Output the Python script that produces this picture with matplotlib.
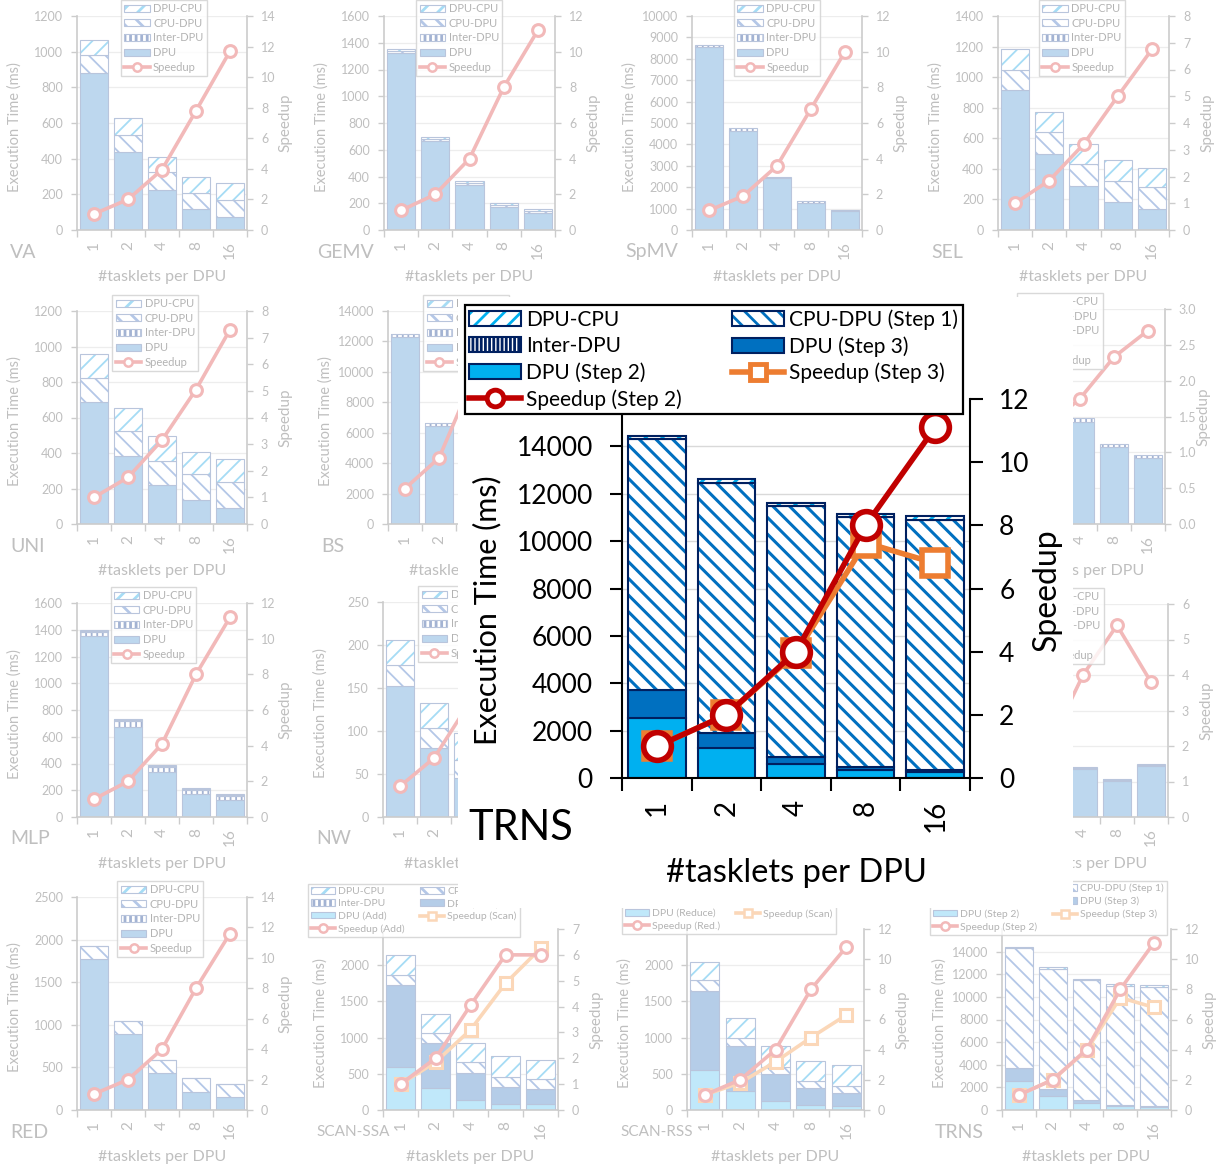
import numpy as np
import matplotlib
matplotlib.use('Agg')
import matplotlib.pyplot as plt
import matplotlib.patches as mpatches
from matplotlib.lines import Line2D
from matplotlib.ticker import FormatStrFormatter
from matplotlib.transforms import Bbox, TransformedBbox

plt.rcParams['font.family'] = ['Lato', 'DejaVu Sans']
plt.rcParams['hatch.linewidth'] = 2.0

W, H = 1221, 1168
tasklets = ['1', '2', '4', '8', '16']

# ---- data: execution time (ms) per stage, speedup ----
va_dpu = [880, 440, 225, 118, 75]
va_inter = [0, 0, 0, 0, 0]
va_cpu_dpu = [100, 95, 103, 92, 95]
va_dpu_cpu = [85, 93, 84, 88, 92]
va_speedup = [1.05, 2.0, 3.95, 7.8, 11.7]

gemv_dpu = [1322, 662, 337, 172, 125]
gemv_inter = [0, 0, 0, 0, 0]
gemv_cpu_dpu = [18, 18, 18, 18, 18]
gemv_dpu_cpu = [15, 15, 15, 15, 15]
gemv_speedup = [1.1, 2.0, 4.0, 8.0, 11.2]

spmv_dpu = [8550, 4620, 2420, 1280, 870]
spmv_inter = [100, 130, 80, 70, 80]
spmv_cpu_dpu = [0, 0, 0, 0, 0]
spmv_dpu_cpu = [0, 0, 0, 0, 0]
spmv_speedup = [1.1, 1.9, 3.6, 6.8, 10.0]

sel_dpu = [915, 495, 285, 180, 135]
sel_inter = [0, 0, 0, 0, 0]
sel_cpu_dpu = [135, 145, 145, 140, 145]
sel_dpu_cpu = [135, 135, 135, 138, 128]
sel_speedup = [1.0, 1.85, 3.2, 5.0, 6.75]

uni_dpu = [685, 385, 220, 135, 90]
uni_inter = [0, 0, 0, 0, 0]
uni_cpu_dpu = [140, 140, 135, 145, 145]
uni_dpu_cpu = [133, 130, 140, 125, 130]
uni_speedup = [1.0, 1.75, 3.15, 5.05, 7.3]

bs_dpu = [12300, 6450, 3500, 1900, 1150]
bs_inter = [200, 200, 150, 100, 80]
bs_cpu_dpu = [0, 0, 0, 0, 0]
bs_dpu_cpu = [0, 0, 0, 0, 0]
bs_speedup = [1.0, 1.86, 4.1, 5.3, 5.8]

bfs_dpu = [1260, 930, 715, 535, 458]
bfs_inter = [40, 30, 28, 25, 22]
bfs_cpu_dpu = [0, 0, 0, 0, 0]
bfs_dpu_cpu = [0, 0, 0, 0, 0]
bfs_speedup = [1.0, 1.35, 1.75, 2.33, 2.7]

mlp_dpu = [1350, 670, 340, 175, 130]
mlp_inter = [35, 45, 35, 30, 30]
mlp_cpu_dpu = [8, 8, 8, 8, 8]
mlp_dpu_cpu = [7, 7, 7, 5, 4]
mlp_speedup = [1.0, 2.0, 4.1, 8.0, 11.2]

nw_dpu = [152, 80, 45, 28, 22]
nw_inter = [0, 0, 0, 0, 0]
nw_cpu_dpu = [25, 23, 21, 17, 16]
nw_dpu_cpu = [29, 30, 32, 30, 28]
nw_speedup = [1.0, 1.92, 3.65, 4.6, 5.0]

hstl_dpu = [540, 270, 135, 101, 143]
hstl_inter = [0, 0, 0, 0, 0]
hstl_cpu_dpu = [3, 3, 3, 3, 3]
hstl_dpu_cpu = [3, 3, 3, 3, 4]
hstl_speedup = [1.0, 2.0, 4.0, 5.4, 3.8]

red_dpu = [1770, 890, 435, 210, 150]
red_inter = [0, 0, 0, 0, 0]
red_cpu_dpu = [150, 150, 150, 165, 150]
red_dpu_cpu = [5, 5, 5, 5, 5]
red_speedup = [1.05, 2.0, 4.0, 8.0, 11.6]

ssa_dpu_add = [600, 300, 140, 80, 80]
ssa_dpu_scan = [1120, 620, 370, 240, 205]
ssa_inter = [0, 0, 0, 0, 0]
ssa_cpu_dpu = [150, 140, 150, 140, 145]
ssa_dpu_cpu = [270, 265, 265, 285, 260]
ssa_speedup_add = [1.0, 2.0, 4.05, 6.0, 6.0]
ssa_speedup_scan = [1.0, 1.85, 3.1, 4.9, 6.25]

rss_dpu_red = [550, 265, 120, 70, 50]
rss_dpu_scan = [1100, 625, 375, 235, 180]
rss_inter = [0, 0, 0, 0, 0]
rss_cpu_dpu = [140, 100, 105, 95, 100]
rss_dpu_cpu = [260, 285, 290, 275, 285]
rss_speedup_red = [1.0, 2.0, 4.0, 8.0, 10.8]
rss_speedup_scan = [1.0, 1.8, 3.2, 4.8, 6.3]

trns_dpu_step2 = [2550, 1270, 590, 330, 250]
trns_dpu_step3 = [1150, 630, 300, 130, 90]
trns_inter = [0, 0, 0, 0, 0]
trns_cpu_dpu = [10600, 10570, 10580, 10540, 10560]
trns_dpu_cpu = [150, 150, 150, 150, 150]
trns_speedup_step2 = [1.0, 2.0, 4.0, 8.0, 11.1]
trns_speedup_step3 = [1.0, 2.0, 3.95, 7.45, 6.8]

# ---- styles: (face, hatch, hatch colour) ----
F_DPU = ('#bdd7ee', None, None)
F_INTER = ('white', '|||', '#a3b3d3')
F_CPUDPU = ('white', '\\\\', '#b4c7e7')
F_DPUCPU = ('white', '//', '#a6dcf5')
F_DPU_A = ('#c0e8fa', None, None)
F_DPU_B = ('#b5cde8', None, None)
F_EDGE = '#b9c5dc'
F_SPEED = '#f2b9b9'
F_SPEED2 = '#fbd7b8'
F_TEXT = '#bfbfbf'
F_SPINE = '#cccccc'

B_DPU2 = ('#00b0f0', None, None)
B_DPU3 = ('#0070c0', None, None)
B_INTER = ('white', '||||', '#002060')
B_CPUDPU = ('white', '\\\\', '#0070c0')
B_DPUCPU = ('white', '//', '#00b0f0')
B_EDGE = '#002060'

# white panel behind the enlarged chart (pixels)
PANEL = (458, 297, 1073, 908)

fig = plt.figure(figsize=(W / 100, H / 100), dpi=100)
x = np.arange(5)


def px_axes(x0, y0, x1, y1, z=0):
    return fig.add_axes([x0 / W, 1 - y1 / H, (x1 - x0) / W, (y1 - y0) / H], zorder=z)


def ftext(px, py, s, clip=None, **kw):
    t = fig.text(px / W, 1 - py / H, s, **kw)
    if clip is not None:
        cx0, cx1 = clip
        t.set_clip_box(TransformedBbox(Bbox.from_extents(cx0 / W, 0, cx1 / W, 1), fig.transFigure))
        t.set_clip_on(True)
    return t


def set_hlw(p, w):
    try:
        p.set_hatch_linewidth(w)
    except AttributeError:
        pass


def draw_stack(ax, segs, width, edge, lw, hlw):
    bottom = np.zeros(5)
    for _, vals, (face, hatch, hcol) in segs:
        vals = np.asarray(vals, dtype=float)
        if not vals.any():
            continue
        if hatch:
            bars = ax.bar(x, vals, width, bottom=bottom, facecolor=face,
                          edgecolor=hcol, hatch=hatch, linewidth=0)
            for b in bars:
                set_hlw(b, hlw)
        else:
            ax.bar(x, vals, width, bottom=bottom, facecolor=face, linewidth=0)
        ax.bar(x, vals, width, bottom=bottom, fill=False, edgecolor=edge, linewidth=lw)
        bottom += vals


def bar_handle(style, edge, lw, hlw):
    face, hatch, hcol = style
    if hatch:
        p = mpatches.Patch(facecolor=face, edgecolor=hcol, hatch=hatch, linewidth=0)
        set_hlw(p, hlw)
    else:
        p = mpatches.Patch(facecolor=face, linewidth=0)
    return (p, mpatches.Patch(fill=False, edgecolor=edge, linewidth=lw))


def std_segs(dpu, inter, cpu_dpu, dpu_cpu):
    return [('DPU', dpu, F_DPU), ('Inter-DPU', inter, F_INTER),
            ('CPU-DPU', cpu_dpu, F_CPUDPU), ('DPU-CPU', dpu_cpu, F_DPUCPU)]


STD_ORDER = ['DPU-CPU', 'CPU-DPU', 'Inter-DPU', 'DPU', 'Speedup']


def small_chart(box, name, segs, lines, ymax, ystep, rmax, rstep, order,
                leg_loc, leg_anchor, ncol=1, leg_size=8, name_size=14, rfmt='%g',
                vis=None, ytick_max=None):
    # vis: None (all shown), 'left' (only x < panel left), 'right' (only x > panel right)
    x0, y0, x1, y1 = box
    ax = px_axes(x0, y0, x1, y1)
    draw_stack(ax, segs, 0.82, F_EDGE, 0.8, 1.3)
    ax.set_xlim(-0.5, 4.5)
    ax.set_ylim(0, ymax)
    ax.set_yticks(np.arange(0, (ytick_max or ymax) + 1e-9, ystep))
    ax.set_xticks(np.arange(-0.5, 5.0, 1.0))
    ax.set_xticks(x, minor=True)
    xl = list(tasklets)
    if vis == 'left':
        xl = xl[:2] + [''] * 3
    elif vis == 'right':
        xl = [''] * 2 + xl[2:]
    ax.set_xticklabels(xl, minor=True, rotation=90)
    ax.tick_params(axis='y', length=4, width=1, color=F_SPINE, labelcolor=F_TEXT,
                   labelsize=9, pad=6, labelleft=(vis != 'right'))
    ax.tick_params(axis='x', which='major', length=5, width=1, color=F_SPINE, labelbottom=False)
    ax.tick_params(axis='x', which='minor', length=0, labelsize=11, labelcolor=F_TEXT, pad=8)
    ax.yaxis.grid(True, color='#ededed', lw=0.9)
    ax.set_axisbelow(True)
    for s in ['top', 'right']:
        ax.spines[s].set_visible(False)
    for s in ['left', 'bottom']:
        ax.spines[s].set_color(F_SPINE)
        ax.spines[s].set_linewidth(1.2)

    ax2 = ax.twinx()
    handles = {}
    for label, vals, col, mk in lines:
        ax2.plot(x, vals, color=col, lw=2.6, marker=mk, ms=8.5, mfc='white',
                 mec=col, mew=2.2, zorder=3)
        handles[label] = Line2D([], [], color=col, lw=2.6, marker=mk, ms=6,
                                mfc='white', mec=col, mew=1.8)
    ax2.set_ylim(0, rmax)
    ax2.set_yticks(np.arange(0, rmax + 1e-9, rstep))
    ax2.yaxis.set_major_formatter(FormatStrFormatter(rfmt))
    ax2.tick_params(axis='y', length=4, width=1, color=F_SPINE, labelcolor=F_TEXT,
                    labelsize=9, pad=6, labelright=(vis != 'left'))
    for s in ['top', 'left', 'bottom']:
        ax2.spines[s].set_visible(False)
    ax2.spines['right'].set_color(F_SPINE)
    ax2.spines['right'].set_linewidth(1.2)

    for label, vals, style in segs:
        handles[label] = bar_handle(style, F_EDGE, 0.8, 1.0)
    leg = ax2.legend([handles[k] for k in order], order, loc=leg_loc,
                     bbox_to_anchor=leg_anchor, ncol=ncol, fontsize=leg_size,
                     frameon=True, fancybox=False, edgecolor='#d0d0d0',
                     labelcolor='#b3b3b3', handlelength=2.3, handleheight=0.6,
                     handletextpad=0.3, labelspacing=0.33, borderpad=0.3,
                     columnspacing=1.5, borderaxespad=0)
    leg.get_frame().set_linewidth(1.0)

    clip = None
    if vis == 'left':
        clip = (0, PANEL[0])
    elif vis == 'right':
        clip = (PANEL[2], W)
    if vis != 'right':
        ftext(x0 - 62, (y0 + y1) / 2 + 4, 'Execution Time (ms)', rotation=90,
              ha='center', va='center', fontsize=10.5, color=F_TEXT)
        ftext(x0 - 67, y1 + 22, name, ha='left', va='center', fontsize=name_size,
              color=F_TEXT)
    if vis != 'left':
        ftext(x1 + 38, (y0 + y1) / 2, 'Speedup', rotation=90,
              ha='center', va='center', fontsize=11, color=F_TEXT)
    ftext((x0 + x1) / 2, y1 + 47, '#tasklets per DPU', clip=clip, ha='center',
          va='center', fontsize=11.5, color=F_TEXT)


def std(box, name, segs, speed, ymax, ystep, rmax, rstep, cx=0.49, rfmt='%g', vis=None):
    h = box[3] - box[1]
    small_chart(box, name, segs, [('Speedup', speed, F_SPEED, 'o')],
                ymax, ystep, rmax, rstep, STD_ORDER, 'lower center',
                (cx, 1 - 60 / h), rfmt=rfmt, vis=vis)


# ---- small grid (faded) ----
std((77, 16, 247, 230), 'VA', std_segs(va_dpu, va_inter, va_cpu_dpu, va_dpu_cpu),
    va_speedup, 1200, 200, 14, 2, cx=0.51)
std((384, 16, 555, 230), 'GEMV', std_segs(gemv_dpu, gemv_inter, gemv_cpu_dpu, gemv_dpu_cpu),
    gemv_speedup, 1600, 200, 12, 2, cx=0.44)
std((692, 16, 862, 230), 'SpMV', std_segs(spmv_dpu, spmv_inter, spmv_cpu_dpu, spmv_dpu_cpu),
    spmv_speedup, 10000, 1000, 12, 2, cx=0.5)
std((998, 16, 1169, 230), 'SEL', std_segs(sel_dpu, sel_inter, sel_cpu_dpu, sel_dpu_cpu),
    sel_speedup, 1400, 200, 8, 1, cx=0.49)

std((77, 311, 247, 524), 'UNI', std_segs(uni_dpu, uni_inter, uni_cpu_dpu, uni_dpu_cpu),
    uni_speedup, 1200, 200, 8, 1, cx=0.46)
std((388, 311, 558, 524), 'BS', std_segs(bs_dpu, bs_inter, bs_cpu_dpu, bs_dpu_cpu),
    bs_speedup, 14000, 2000, 6, 1, cx=0.46, vis='left')
std((995, 309, 1165, 524), 'BFS', std_segs(bfs_dpu, bfs_inter, bfs_cpu_dpu, bfs_dpu_cpu),
    bfs_speedup, 1500, 250, 3, 0.5, cx=0.38, rfmt='%.1f', vis='right')

std((77, 603, 247, 817), 'MLP', std_segs(mlp_dpu, mlp_inter, mlp_cpu_dpu, mlp_dpu_cpu),
    mlp_speedup, 1600, 200, 12, 2, cx=0.45)
std((383, 602, 553, 817), 'NW', std_segs(nw_dpu, nw_inter, nw_cpu_dpu, nw_dpu_cpu),
    nw_speedup, 250, 50, 7, 1, cx=0.46, vis='left')
std((998, 604, 1168, 817), 'HST-L', std_segs(hstl_dpu, hstl_inter, hstl_cpu_dpu, hstl_dpu_cpu),
    hstl_speedup, 600, 100, 6, 1, cx=0.37, vis='right')

std((77, 897, 247, 1110), 'RED', std_segs(red_dpu, red_inter, red_cpu_dpu, red_dpu_cpu),
    red_speedup, 2500, 500, 14, 2, cx=0.49)

small_chart((383, 929, 558, 1110), 'SCAN-SSA',
            [('DPU (Add)', ssa_dpu_add, F_DPU_A), ('DPU (Scan)', ssa_dpu_scan, F_DPU_B),
             ('Inter-DPU', ssa_inter, F_INTER), ('CPU-DPU', ssa_cpu_dpu, F_CPUDPU),
             ('DPU-CPU', ssa_dpu_cpu, F_DPUCPU)],
            [('Speedup (Scan)', ssa_speedup_scan, F_SPEED2, 's'),
             ('Speedup (Add)', ssa_speedup_add, F_SPEED, 'o')],
            2500, 500, 7, 1,
            ['DPU-CPU', 'Inter-DPU', 'DPU (Add)', 'Speedup (Add)',
             'CPU-DPU', 'DPU (Scan)', 'Speedup (Scan)'],
            'lower left', (-0.43, 0.956), ncol=2, leg_size=7.5, name_size=11,
            ytick_max=2000)

small_chart((687, 929, 864, 1110), 'SCAN-RSS',
            [('DPU (Reduce)', rss_dpu_red, F_DPU_A), ('DPU (Scan)', rss_dpu_scan, F_DPU_B),
             ('Inter-DPU', rss_inter, F_INTER), ('CPU-DPU', rss_cpu_dpu, F_CPUDPU),
             ('DPU-CPU', rss_dpu_cpu, F_DPUCPU)],
            [('Speedup (Scan)', rss_speedup_scan, F_SPEED2, 's'),
             ('Speedup (Red.)', rss_speedup_red, F_SPEED, 'o')],
            2500, 500, 12, 2,
            ['DPU-CPU', 'Inter-DPU', 'DPU (Reduce)', 'Speedup (Red.)',
             'CPU-DPU', 'DPU (Scan)', 'Speedup (Scan)'],
            'lower left', (-0.367, 0.972), ncol=2, leg_size=7.5, name_size=11,
            ytick_max=2000)

trns_segs_f = [('DPU (Step 2)', trns_dpu_step2, F_DPU_A), ('DPU (Step 3)', trns_dpu_step3, F_DPU_B),
               ('Inter-DPU', trns_inter, F_INTER), ('CPU-DPU (Step 1)', trns_cpu_dpu, F_CPUDPU),
               ('DPU-CPU', trns_dpu_cpu, F_DPUCPU)]
trns_order = ['DPU-CPU', 'Inter-DPU', 'DPU (Step 2)', 'Speedup (Step 2)',
              'CPU-DPU (Step 1)', 'DPU (Step 3)', 'Speedup (Step 3)']
small_chart((1002, 929, 1171, 1110), 'TRNS', trns_segs_f,
            [('Speedup (Step 3)', trns_speedup_step3, F_SPEED2, 's'),
             ('Speedup (Step 2)', trns_speedup_step2, F_SPEED, 'o')],
            16000, 2000, 12, 2, trns_order,
            'lower left', (-0.426, 0.967), ncol=2, leg_size=7.5, name_size=14,
            ytick_max=14000)

# ---- white panel behind the enlarged TRNS chart ----
fig.add_artist(mpatches.Rectangle((PANEL[0] / W, 1 - PANEL[3] / H),
                                  (PANEL[2] - PANEL[0]) / W, (PANEL[3] - PANEL[1]) / H,
                                  transform=fig.transFigure, facecolor='white',
                                  edgecolor='none', zorder=5))

# ---- enlarged TRNS chart ----
bx0, by0, bx1, by1 = 622, 399, 970, 778
bax = px_axes(bx0, by0, bx1, by1, z=10)
trns_segs_b = [('DPU (Step 2)', trns_dpu_step2, B_DPU2), ('DPU (Step 3)', trns_dpu_step3, B_DPU3),
               ('Inter-DPU', trns_inter, B_INTER), ('CPU-DPU (Step 1)', trns_cpu_dpu, B_CPUDPU),
               ('DPU-CPU', trns_dpu_cpu, B_DPUCPU)]
draw_stack(bax, trns_segs_b, 0.83, B_EDGE, 1.5, 2.2)
bax.set_xlim(-0.5, 4.5)
bax.set_ylim(0, 16000)
bax.set_yticks(np.arange(0, 14001, 2000))
bax.set_xticks(np.arange(-0.5, 5.0, 1.0))
bax.set_xticks(x, minor=True)
bax.set_xticklabels(tasklets, minor=True, rotation=90)
bax.tick_params(axis='y', length=9, width=1.5, labelsize=19, pad=12)
bax.tick_params(axis='x', which='major', length=9, width=1.5, labelbottom=False)
bax.tick_params(axis='x', which='minor', length=0, labelsize=20, pad=16)
bax.yaxis.grid(True, color='#d9d9d9', lw=1)
bax.set_axisbelow(True)
bax.spines['top'].set_visible(False)
bax.spines['right'].set_visible(False)
for s in ['left', 'bottom']:
    bax.spines[s].set_linewidth(1.5)

bax2 = bax.twinx()
bax2.set_zorder(11)
bax2.plot(x, trns_speedup_step3, color='#ed7d31', lw=4, marker='s', ms=19,
          mfc='white', mec='#ed7d31', mew=4, zorder=2)
bax2.plot(x, trns_speedup_step2, color='#c00000', lw=4, marker='o', ms=20,
          mfc='white', mec='#c00000', mew=4, zorder=3)
bax2.set_ylim(0, 12)
bax2.set_yticks(np.arange(0, 12.1, 2))
bax2.tick_params(axis='y', length=9, width=1.5, labelsize=19, pad=12)
for s in ['top', 'left', 'bottom']:
    bax2.spines[s].set_visible(False)
bax2.spines['right'].set_linewidth(1.5)

bh = {lab: bar_handle(st, B_EDGE, 1.5, 1.8) for lab, _, st in trns_segs_b}
bh['Speedup (Step 2)'] = Line2D([], [], color='#c00000', lw=4, marker='o', ms=12,
                                mfc='white', mec='#c00000', mew=3.5)
bh['Speedup (Step 3)'] = Line2D([], [], color='#ed7d31', lw=4, marker='s', ms=11,
                                mfc='white', mec='#ed7d31', mew=3.5)
bleg = bax2.legend([bh[k] for k in trns_order], trns_order, loc='upper left',
                   bbox_to_anchor=((465 - bx0) / (bx1 - bx0), (by1 - 305) / (by1 - by0)),
                   ncol=2, fontsize=15, frameon=True, fancybox=False, edgecolor='black',
                   framealpha=1, handlelength=2.5, handleheight=0.7, handletextpad=0.25,
                   labelspacing=0.3, borderpad=0.2, columnspacing=2.4, borderaxespad=0)
bleg.get_frame().set_linewidth(1.6)

ftext(487, 610, 'Execution Time (ms)', rotation=90, ha='center', va='center',
      fontsize=22, zorder=12)
ftext(1047, 590, 'Speedup', rotation=90, ha='center', va='center',
      fontsize=23, zorder=12)
ftext(468, 828, 'TRNS', ha='left', va='center', fontsize=30, zorder=12)
ftext(797, 873, '#tasklets per DPU', ha='center', va='center', fontsize=23.5, zorder=12)

fig.savefig('out.png', dpi=100)
